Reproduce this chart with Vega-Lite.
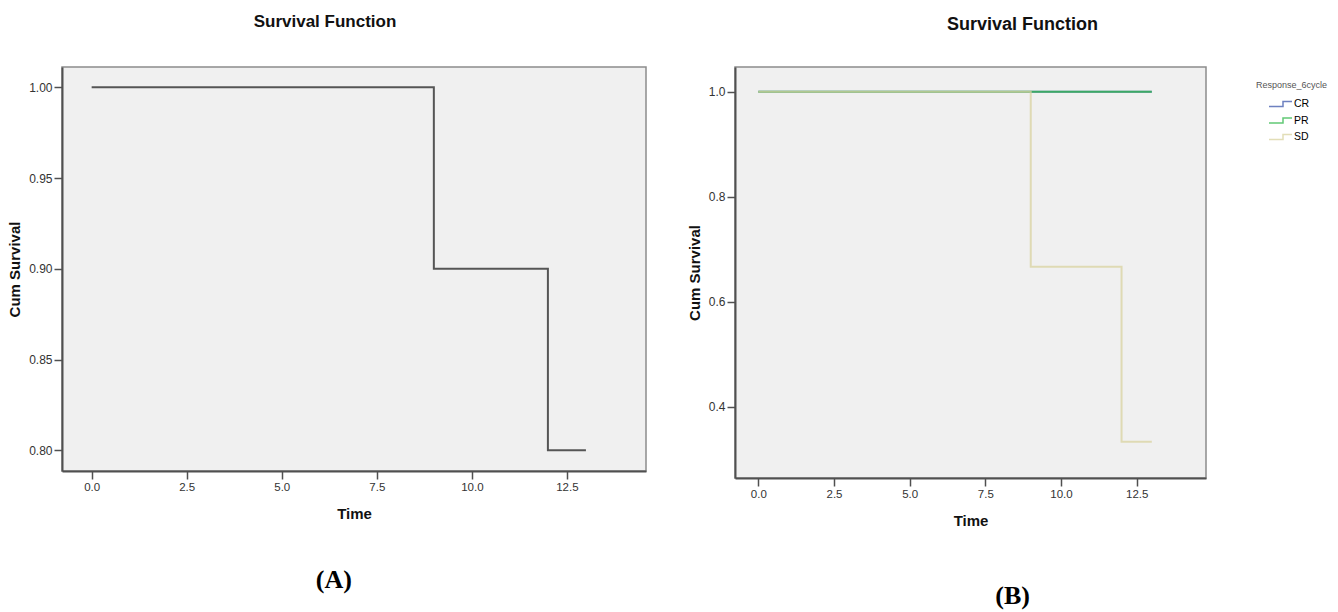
{
  "$schema": "https://vega.github.io/schema/vega-lite/v6.json",
  "background": "white",
  "padding": {"left": 6, "top": 12, "right": 5, "bottom": 5},
  "spacing": 39,
  "datasets": {
    "a": [
      {"time": 0, "surv": 1.0},
      {"time": 9, "surv": 0.9},
      {"time": 12, "surv": 0.8},
      {"time": 13, "surv": 0.8}
    ],
    "b": [
      {"group": "CR", "time": 0, "surv": 1.0},
      {"group": "CR", "time": 13, "surv": 1.0},
      {"group": "PR", "time": 0, "surv": 1.0},
      {"group": "PR", "time": 13, "surv": 1.0},
      {"group": "SD", "time": 0, "surv": 1.0},
      {"group": "SD", "time": 9, "surv": 0.6667},
      {"group": "SD", "time": 12, "surv": 0.3333},
      {"group": "SD", "time": 13, "surv": 0.3333}
    ]
  },
  "hconcat": [
    {
      "title": {"text": "(A)", "orient": "bottom", "anchor": "middle", "font": "Liberation Serif", "fontSize": 26, "fontWeight": "bold", "color": "#000", "offset": 45, "dx": 7},
      "vconcat": [
        {
          "width": 584,
          "height": 404,
          "title": {"text": "Survival Function", "anchor": "middle", "fontSize": 17, "fontWeight": "bold", "color": "#111", "dx": -29, "offset": 36},
          "data": {"name": "a"},
          "mark": {"type": "line", "interpolate": "step-after", "color": "#555555", "strokeWidth": 2},
          "encoding": {
            "x": {"field": "time", "type": "quantitative", "title": "Time",
              "scale": {"domain": [-0.78, 14.58], "nice": false, "zero": false},
              "axis": {"values": [0, 2.5, 5, 7.5, 10, 12.5], "format": ".1f", "titlePadding": 14}},
            "y": {"field": "surv", "type": "quantitative", "title": "Cum Survival",
              "scale": {"domain": [0.7886, 1.0112], "nice": false, "zero": false},
              "axis": {"values": [0.8, 0.85, 0.9, 0.95, 1.0], "format": ".2f", "labelFontSize": 12, "titlePadding": 6}}
          }
        }
      ]
    },
    {
      "title": {"text": "(B)", "orient": "bottom", "anchor": "middle", "font": "Liberation Serif", "fontSize": 26, "fontWeight": "bold", "color": "#000", "offset": 54, "dx": 66},
      "vconcat": [
        {
          "width": 471,
          "height": 411,
          "title": {"text": "Survival Function", "anchor": "middle", "fontSize": 18, "fontWeight": "bold", "color": "#111", "dx": 52, "offset": 33},
          "data": {"name": "b"},
          "mark": {"type": "line", "interpolate": "step-after", "strokeWidth": 2, "opacity": 0.75},
          "encoding": {
            "x": {"field": "time", "type": "quantitative", "title": "Time",
              "scale": {"domain": [-0.77, 14.79], "nice": false, "zero": false},
              "axis": {"values": [0, 2.5, 5, 7.5, 10, 12.5], "format": ".1f", "titlePadding": 14}},
            "y": {"field": "surv", "type": "quantitative", "title": "Cum Survival",
              "scale": {"domain": [0.2642, 1.047], "nice": false, "zero": false},
              "axis": {"values": [0.4, 0.6, 0.8, 1.0], "format": ".1f", "labelFontSize": 12, "titlePadding": 6}},
            "color": {"field": "group", "type": "nominal",
              "scale": {"domain": ["CR", "PR", "SD"], "range": ["#3e58ac", "#2eb848", "#d9d3a0"]},
              "legend": {"title": "Response_6cycle", "orient": "right", "offset": 35, "padding": 14,
                "titleFontSize": 9, "titleFontWeight": "normal", "titleColor": "#555", "titlePadding": 8,
                "symbolType": "M1.4,0.5 H4.2 V-0.5 H6.0", "symbolSize": 100, "symbolStrokeWidth": 1.5,
                "labelFontSize": 10.5, "labelColor": "#000", "labelOffset": 26, "rowPadding": 4.5}},
            "order": {"field": "group", "type": "nominal"}
          }
        }
      ]
    }
  ],
  "config": {
    "font": "Liberation Sans",
    "view": {"fill": "#f0f0f0", "stroke": "#8c8c8c", "strokeWidth": 1.5},
    "axis": {"domainColor": "#505050", "domainWidth": 2, "tickColor": "#505050", "tickWidth": 1.5, "tickSize": 8,
      "labelPadding": 2, "grid": false, "labelFontSize": 11.5, "labelColor": "#333", "titleFontSize": 15,
      "titleFontWeight": "bold", "titleColor": "#111", "labelFont": "Liberation Sans"}
  }
}
